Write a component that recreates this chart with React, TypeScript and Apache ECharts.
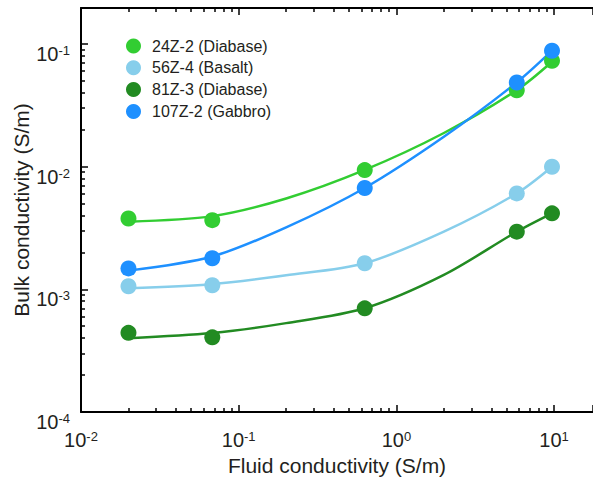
import React, { useEffect, useRef } from 'react';
import * as echarts from 'echarts';

// ---- data ----
const seriesNames = ['24Z-2 (Diabase)', '56Z-4 (Basalt)', '81Z-3 (Diabase)', '107Z-2 (Gabbro)'];
const seriesColors = ['#32cd32', '#87ceeb', '#228b22', '#1e90ff'];

// measured points (fluid conductivity, S/m)
const fluidCond = [0.02, 0.068, 0.63, 5.8, 9.7];
const bulk24Z2 = [0.00378, 0.00366, 0.00937, 0.0419, 0.0728];
const bulk56Z4 = [0.00106, 0.00108, 0.00163, 0.00605, 0.00997];
const bulk81Z3 = [0.000442, 0.000406, 0.0007, 0.00295, 0.00416];
const bulk107Z2 = [0.00148, 0.00179, 0.0067, 0.0485, 0.088];

// fitted curves at these fluid conductivities
const fitFluid = [0.02, 0.068, 0.2, 0.63, 2, 5.8, 9.7];
const fit24Z2 = [0.00356, 0.00395, 0.0055, 0.0094, 0.0188, 0.042, 0.0716];
const fit56Z4 = [0.00102, 0.0011, 0.0013, 0.00163, 0.00295, 0.00605, 0.00997];
const fit81Z3 = [0.0004, 0.00044, 0.00053, 0.0007, 0.00131, 0.00295, 0.00416];
const fit107Z2 = [0.00142, 0.00185, 0.0032, 0.0067, 0.0175, 0.0486, 0.0881];

const pointSets = [bulk24Z2, bulk56Z4, bulk81Z3, bulk107Z2];
const fitSets = [fit24Z2, fit56Z4, fit81Z3, fit107Z2];

const xMin = 0.01;
const xMax = 17.65;
const yMin = 0.0001;
const yMax = 0.1963;

const FONT = '"Liberation Sans", Arial, Helvetica, sans-serif';
const TEXT = '#231f20';

const powLabel = (v: number) => `{b|10}{s|${Math.round(Math.log10(v))}}`;
const labelRich = {
  b: { fontSize: 20, lineHeight: 20, fontFamily: FONT, color: TEXT },
  s: { fontSize: 13, lineHeight: 6, verticalAlign: 'top', fontFamily: FONT, color: TEXT },
};

const axisLineStyle = { color: '#000', width: 2 };
const tickStyle = { color: '#000', width: 1.5 };

export default function App() {
  const ref = useRef<HTMLDivElement>(null);
  useEffect(() => {
    if (!ref.current) return;
    const chart = echarts.init(ref.current, undefined, { renderer: 'svg' });

    const fitSeries = fitSets.map((fs, i) => ({
      name: seriesNames[i] + ' fit',
      type: 'line',
      xAxisIndex: 0,
      yAxisIndex: 0,
      data: fitFluid.map((x, j) => [x, fs[j]]),
      showSymbol: false,
      symbol: 'none',
      smooth: 0.3,
      lineStyle: { color: seriesColors[i], width: 2.5 },
      z: 2,
      silent: true,
    }));
    const pointSeries = pointSets.map((ps, i) => ({
      name: seriesNames[i],
      type: 'scatter',
      xAxisIndex: 0,
      yAxisIndex: 0,
      data: fluidCond.map((x, j) => [x, ps[j]]),
      symbol: 'circle',
      symbolSize: 16,
      itemStyle: { color: seriesColors[i], opacity: 1 },
      z: 3,
    }));

    chart.setOption({
      animation: false,
      backgroundColor: '#fff',
      grid: { left: 81, right: 0, top: 8, bottom: 65, containLabel: false, outerBoundsMode: 'none' },
      legend: {
        data: seriesNames,
        orient: 'vertical',
        left: 121,
        top: 33,
        icon: 'circle',
        itemWidth: 15,
        itemHeight: 15,
        itemGap: 5.8,
        textStyle: { fontSize: 16, lineHeight: 16, color: TEXT, fontFamily: FONT, padding: [0, 0, 0, 6] },
        selectedMode: false,
      },
      xAxis: [
        {
          type: 'log',
          logBase: 10,
          min: xMin,
          max: xMax,
          position: 'bottom',
          name: 'Fluid conductivity (S/m)',
          nameLocation: 'middle',
          nameGap: 53,
          nameMoveOverlap: false,
          nameTextStyle: { fontSize: 21, color: TEXT, fontFamily: FONT, verticalAlign: 'middle' },
          axisLine: { show: true, lineStyle: axisLineStyle },
          axisTick: { show: true, inside: true, length: 7, lineStyle: tickStyle },
          minorTick: { show: true, splitNumber: 9, length: 4, lineStyle: tickStyle },
          axisLabel: { formatter: powLabel, rich: labelRich, margin: 18, showMaxLabel: false, showMinLabel: true },
          splitLine: { show: false },
        },
        {
          type: 'log',
          logBase: 10,
          min: xMin,
          max: xMax,
          position: 'top',
          axisLine: { show: true, lineStyle: axisLineStyle },
          axisTick: { show: true, inside: true, length: 7, lineStyle: tickStyle },
          minorTick: { show: true, splitNumber: 9, length: 4, lineStyle: tickStyle },
          axisLabel: { show: false },
          splitLine: { show: false },
        },
      ],
      yAxis: [
        {
          type: 'log',
          logBase: 10,
          min: yMin,
          max: yMax,
          position: 'left',
          name: 'Bulk conductivity (S/m)',
          nameLocation: 'middle',
          nameGap: 60,
          nameMoveOverlap: false,
          nameTextStyle: { fontSize: 21, color: TEXT, fontFamily: FONT, verticalAlign: 'middle' },
          axisLine: { show: true, lineStyle: axisLineStyle },
          axisTick: { show: true, inside: true, length: 7, lineStyle: tickStyle },
          minorTick: { show: true, splitNumber: 9, length: 4, lineStyle: tickStyle },
          axisLabel: { formatter: powLabel, rich: labelRich, margin: 11, verticalAlign: 'top', showMaxLabel: false, showMinLabel: true },
          splitLine: { show: false },
        },
      ],
      series: [...fitSeries, ...pointSeries],
    });
    return () => chart.dispose();
  }, []);
  return <div ref={ref} style={{ position: 'fixed', left: 0, top: 0, width: 593, height: 477 }} />;
}
